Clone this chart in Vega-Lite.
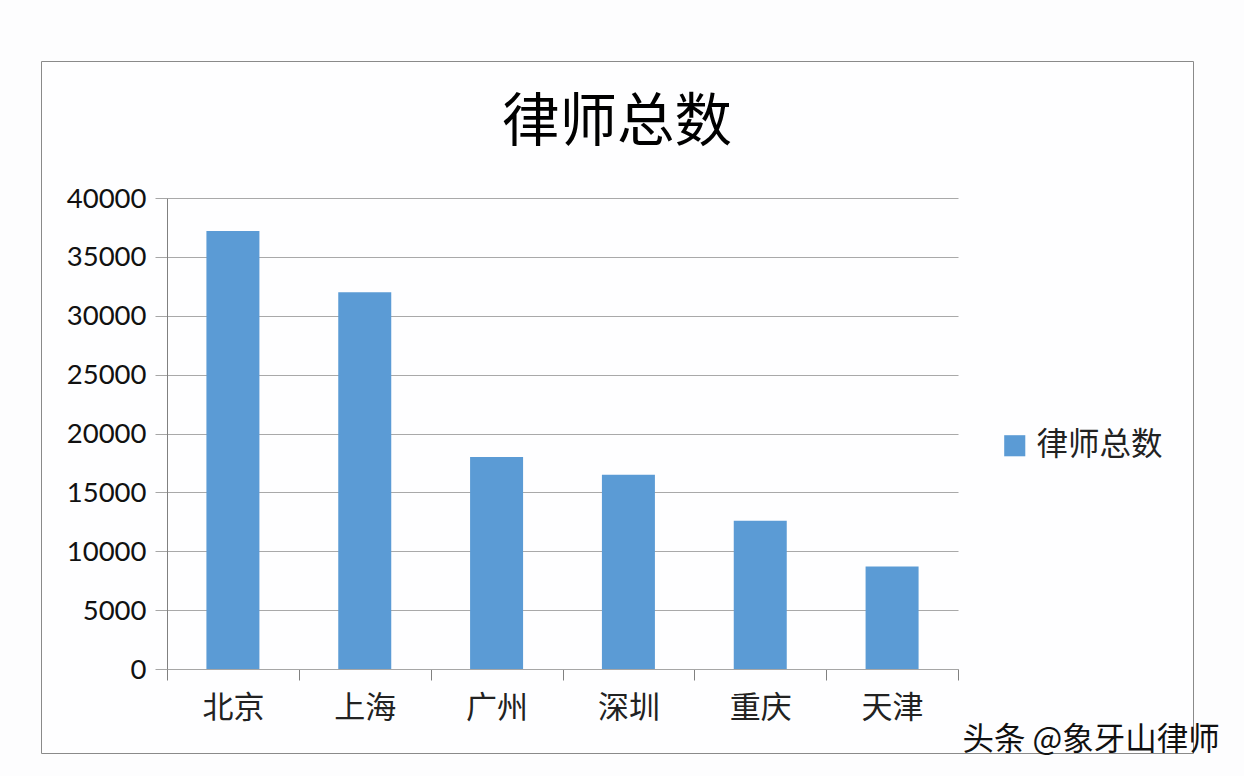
{
"$schema":"https://vega.github.io/schema/vega-lite/v6.json",
"width":1152,"height":692,
"autosize":{"type":"none"},
"padding":{"left":41,"top":61,"right":51,"bottom":23},
"background":"#fdfdfe",
"view":{"stroke":"#8a8a8a","strokeWidth":1,"fill":"#fefeff"},
"title":{"text":"律师总数","font":"Noto Sans CJK SC","fontSize":57.5,"fontWeight":"normal","color":"#000000","anchor":"start","frame":"group","dx":461,"dy":92,"offset":0},
"data":{"values":[
{"city":"北京","series":"律师总数","count":37200},
{"city":"上海","series":"律师总数","count":32000},
{"city":"广州","series":"律师总数","count":18000},
{"city":"深圳","series":"律师总数","count":16500},
{"city":"重庆","series":"律师总数","count":12600},
{"city":"天津","series":"律师总数","count":8700}
]},
"config":{"font":"Noto Sans CJK SC"},
"mark":{"type":"bar","width":53},
"encoding":{
"x":{"field":"city","type":"nominal","sort":null,
 "title":"头条 @象牙山律师",
 "scale":{"range":[126,917],"paddingInner":0,"paddingOuter":0},
 "axis":{"offset":-84,"labelAngle":0,"labelFontSize":31,"labelFont":"Noto Sans CJK SC","labelColor":"#222222","labelPadding":13,"domainColor":"#a6a6a6","tickColor":"#808080","tickSize":11,"tickBand":"extent","grid":false,
  "titleX":921,"titleY":80,"titleAlign":"left","titleBaseline":"alphabetic","titleAnchor":"start","titleFontSize":31.5,"titleLimit":400,"titleFontWeight":"normal","titleFont":"Noto Sans CJK SC","titleColor":"#111111"}},
"y":{"field":"count","type":"quantitative","title":null,
 "scale":{"domain":[0,40000],"range":[608,137],"nice":false},
 "axis":{"values":[0,5000,10000,15000,20000,25000,30000,35000,40000],"format":"d","offset":-126,"labelFontSize":27.5,"labelFont":"Lato","labelColor":"#111111","labelPadding":9,"labelOffset":1,"domainColor":"#808080","tickColor":"#a6a6a6","tickSize":12,"grid":true,"gridColor":"#a9a9a9"}},
"color":{"field":"series","type":"nominal","title":null,
 "scale":{"range":["#5b9bd5"]},
 "legend":{"orient":"none","legendX":958,"legendY":369,"symbolType":"square","symbolSize":445,"symbolStrokeWidth":0,"symbolOpacity":1,"labelFontSize":31.5,"labelFont":"Noto Sans CJK SC","labelColor":"#222222","labelOffset":6}}
}
}
